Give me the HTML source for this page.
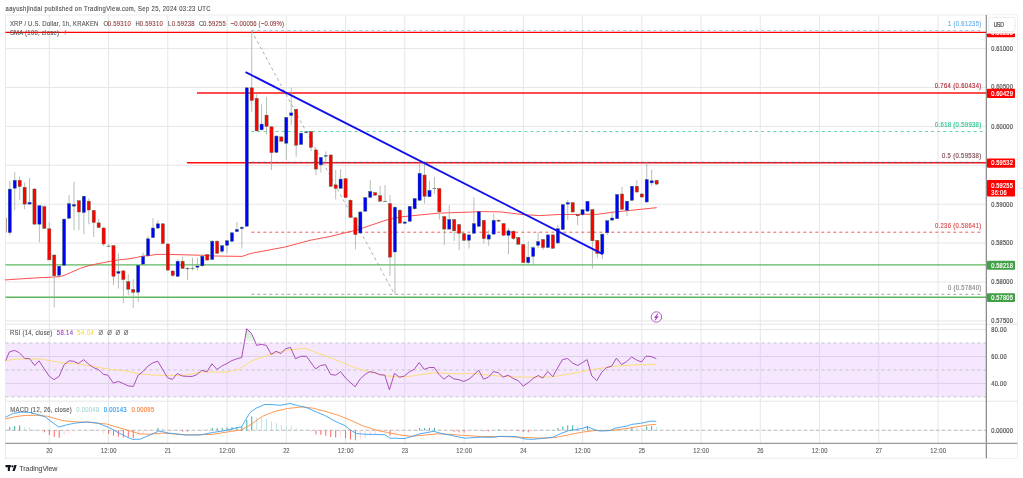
<!DOCTYPE html>
<html><head><meta charset="utf-8"><style>
html,body{margin:0;padding:0;background:#fff;}
body{width:1023px;height:478px;overflow:hidden;}
svg{display:block;font-family:"Liberation Sans", Arial, sans-serif;}
</style></head><body>
<svg width="1023" height="478" viewBox="0 0 1023 478">
<rect x="5.5" y="15.0" width="1011.8" height="443.2" fill="#fff" stroke="#e3e6ee" stroke-width="0.8"/>
<line x1="49.30" y1="15.00" x2="49.30" y2="443.30" stroke="#e6e6e6" stroke-width="1" />
<line x1="108.55" y1="15.00" x2="108.55" y2="443.30" stroke="#e6e6e6" stroke-width="1" />
<line x1="167.80" y1="15.00" x2="167.80" y2="443.30" stroke="#e6e6e6" stroke-width="1" />
<line x1="227.05" y1="15.00" x2="227.05" y2="443.30" stroke="#e6e6e6" stroke-width="1" />
<line x1="286.30" y1="15.00" x2="286.30" y2="443.30" stroke="#e6e6e6" stroke-width="1" />
<line x1="345.55" y1="15.00" x2="345.55" y2="443.30" stroke="#e6e6e6" stroke-width="1" />
<line x1="404.80" y1="15.00" x2="404.80" y2="443.30" stroke="#e6e6e6" stroke-width="1" />
<line x1="464.05" y1="15.00" x2="464.05" y2="443.30" stroke="#e6e6e6" stroke-width="1" />
<line x1="523.30" y1="15.00" x2="523.30" y2="443.30" stroke="#e6e6e6" stroke-width="1" />
<line x1="582.55" y1="15.00" x2="582.55" y2="443.30" stroke="#e6e6e6" stroke-width="1" />
<line x1="641.80" y1="15.00" x2="641.80" y2="443.30" stroke="#e6e6e6" stroke-width="1" />
<line x1="701.05" y1="15.00" x2="701.05" y2="443.30" stroke="#e6e6e6" stroke-width="1" />
<line x1="760.30" y1="15.00" x2="760.30" y2="443.30" stroke="#e6e6e6" stroke-width="1" />
<line x1="819.55" y1="15.00" x2="819.55" y2="443.30" stroke="#e6e6e6" stroke-width="1" />
<line x1="878.80" y1="15.00" x2="878.80" y2="443.30" stroke="#e6e6e6" stroke-width="1" />
<line x1="938.05" y1="15.00" x2="938.05" y2="443.30" stroke="#e6e6e6" stroke-width="1" />
<line x1="5.50" y1="48.60" x2="986.30" y2="48.60" stroke="#e6e6e6" stroke-width="1" />
<line x1="5.50" y1="87.50" x2="986.30" y2="87.50" stroke="#e6e6e6" stroke-width="1" />
<line x1="5.50" y1="126.40" x2="986.30" y2="126.40" stroke="#e6e6e6" stroke-width="1" />
<line x1="5.50" y1="165.30" x2="986.30" y2="165.30" stroke="#e6e6e6" stroke-width="1" />
<line x1="5.50" y1="204.20" x2="986.30" y2="204.20" stroke="#e6e6e6" stroke-width="1" />
<line x1="5.50" y1="243.10" x2="986.30" y2="243.10" stroke="#e6e6e6" stroke-width="1" />
<line x1="5.50" y1="282.00" x2="986.30" y2="282.00" stroke="#e6e6e6" stroke-width="1" />
<line x1="5.50" y1="320.90" x2="986.30" y2="320.90" stroke="#e6e6e6" stroke-width="1" />
<line x1="5.50" y1="324.30" x2="1017.30" y2="324.30" stroke="#e4e6ec" stroke-width="1" />
<line x1="5.50" y1="401.20" x2="1017.30" y2="401.20" stroke="#e4e6ec" stroke-width="1" />
<rect x="5.5" y="342.98" width="980.8" height="53.90" fill="#f5e7fe"/>
<line x1="5.50" y1="329.50" x2="986.30" y2="329.50" stroke="#e6e6e6" stroke-width="1" />
<line x1="5.50" y1="356.45" x2="986.30" y2="356.45" stroke="#dcd0e6" stroke-width="1" />
<line x1="5.50" y1="383.40" x2="986.30" y2="383.40" stroke="#dcd0e6" stroke-width="1" />
<line x1="5.50" y1="342.98" x2="986.30" y2="342.98" stroke="#a9a9b0" stroke-width="0.8" stroke-dasharray="3 3" opacity="0.8"/>
<line x1="5.50" y1="369.93" x2="986.30" y2="369.93" stroke="#a9a9b0" stroke-width="0.8" stroke-dasharray="3 3" opacity="0.8"/>
<line x1="5.50" y1="396.88" x2="986.30" y2="396.88" stroke="#a9a9b0" stroke-width="0.8" stroke-dasharray="3 3" opacity="0.8"/>
<line x1="49.30" y1="342.98" x2="49.30" y2="396.88" stroke="#e2d6ee" stroke-width="1" />
<line x1="108.55" y1="342.98" x2="108.55" y2="396.88" stroke="#e2d6ee" stroke-width="1" />
<line x1="167.80" y1="342.98" x2="167.80" y2="396.88" stroke="#e2d6ee" stroke-width="1" />
<line x1="227.05" y1="342.98" x2="227.05" y2="396.88" stroke="#e2d6ee" stroke-width="1" />
<line x1="286.30" y1="342.98" x2="286.30" y2="396.88" stroke="#e2d6ee" stroke-width="1" />
<line x1="345.55" y1="342.98" x2="345.55" y2="396.88" stroke="#e2d6ee" stroke-width="1" />
<line x1="404.80" y1="342.98" x2="404.80" y2="396.88" stroke="#e2d6ee" stroke-width="1" />
<line x1="464.05" y1="342.98" x2="464.05" y2="396.88" stroke="#e2d6ee" stroke-width="1" />
<line x1="523.30" y1="342.98" x2="523.30" y2="396.88" stroke="#e2d6ee" stroke-width="1" />
<line x1="582.55" y1="342.98" x2="582.55" y2="396.88" stroke="#e2d6ee" stroke-width="1" />
<line x1="641.80" y1="342.98" x2="641.80" y2="396.88" stroke="#e2d6ee" stroke-width="1" />
<line x1="701.05" y1="342.98" x2="701.05" y2="396.88" stroke="#e2d6ee" stroke-width="1" />
<line x1="760.30" y1="342.98" x2="760.30" y2="396.88" stroke="#e2d6ee" stroke-width="1" />
<line x1="819.55" y1="342.98" x2="819.55" y2="396.88" stroke="#e2d6ee" stroke-width="1" />
<line x1="878.80" y1="342.98" x2="878.80" y2="396.88" stroke="#e2d6ee" stroke-width="1" />
<line x1="938.05" y1="342.98" x2="938.05" y2="396.88" stroke="#e2d6ee" stroke-width="1" />
<line x1="5.50" y1="430.30" x2="986.30" y2="430.30" stroke="#a8a8a8" stroke-width="0.8" stroke-dasharray="4 2"/>
<line x1="5.50" y1="32.35" x2="986.30" y2="32.35" stroke="#ff0000" stroke-width="1.4" />
<line x1="197.00" y1="93.00" x2="986.30" y2="93.00" stroke="#ff1010" stroke-width="1.4" />
<line x1="186.90" y1="162.80" x2="986.30" y2="162.80" stroke="#ff1010" stroke-width="1.5" />
<line x1="5.50" y1="264.90" x2="986.30" y2="264.90" stroke="#5cb85f" stroke-width="1.4" />
<line x1="5.50" y1="297.20" x2="986.30" y2="297.20" stroke="#5cb85f" stroke-width="1.4" />
<line x1="251.30" y1="30.60" x2="983.30" y2="30.60" stroke="#90c8f0" stroke-width="1" stroke-dasharray="3 3"/>
<line x1="251.30" y1="131.50" x2="983.30" y2="131.50" stroke="#62d6ac" stroke-width="1.0" stroke-dasharray="3 3.07"/>
<line x1="251.30" y1="162.30" x2="983.30" y2="162.30" stroke="#5a5a8a" stroke-width="0.9" stroke-dasharray="3 3"/>
<line x1="251.30" y1="232.20" x2="983.30" y2="232.20" stroke="#ee4a4a" stroke-width="0.9" stroke-dasharray="3 3"/>
<line x1="251.30" y1="294.30" x2="983.30" y2="294.30" stroke="#999999" stroke-width="0.9" stroke-dasharray="3 3"/>
<line x1="251.50" y1="30.70" x2="394.50" y2="294.30" stroke="#999999" stroke-width="0.8" stroke-dasharray="3 3"/>
<text transform="translate(947.90 26.10) scale(0.82 1)" fill="#6fb3e6" stroke="#6fb3e6" stroke-width="0.2" font-size="7.2" textLength="40.73" lengthAdjust="spacing" >1 (0.61235)</text>
<text transform="translate(934.70 87.90) scale(0.82 1)" fill="#b8323f" stroke="#b8323f" stroke-width="0.2" font-size="7.2" textLength="56.83" lengthAdjust="spacing" >0.764 (0.60434)</text>
<text transform="translate(935.00 126.50) scale(0.82 1)" fill="#2fc794" stroke="#2fc794" stroke-width="0.2" font-size="7.2" textLength="56.34" lengthAdjust="spacing" >0.618 (0.59938)</text>
<text transform="translate(942.00 157.90) scale(0.82 1)" fill="#7d4e52" stroke="#7d4e52" stroke-width="0.2" font-size="7.2" textLength="47.80" lengthAdjust="spacing" >0.5 (0.59538)</text>
<text transform="translate(934.90 227.90) scale(0.82 1)" fill="#e05050" stroke="#e05050" stroke-width="0.2" font-size="7.2" textLength="56.59" lengthAdjust="spacing" >0.236 (0.58641)</text>
<text transform="translate(947.90 290.00) scale(0.82 1)" fill="#8a8a8a" stroke="#8a8a8a" stroke-width="0.2" font-size="7.2" textLength="40.73" lengthAdjust="spacing" >0 (0.57840)</text>
<polyline points="5.3,279.9 20.0,278.9 40.0,277.7 52.7,277.1 60.3,276.5 65.4,274.9 73.0,271.5 80.7,268.2 88.3,265.8 95.9,264.1 103.5,262.6 111.2,261.2 118.8,259.9 129.0,258.8 136.6,257.5 141.7,256.3 149.3,255.5 156.9,254.4 167.1,254.4 200.2,255.2 215.2,256.0 242.0,256.4 250.4,253.5 285.5,246.9 310.6,240.2 330.0,236.5 345.2,232.7 355.2,230.5 386.2,220.1 400.0,217.0 410.4,215.9 438.9,213.1 470.0,212.1 480.4,211.6 500.5,211.9 523.7,214.7 540.4,215.6 557.1,214.6 590.6,214.2 596.9,214.4 615.3,211.9 656.3,207.7" fill="none" stroke="#ff3b3b" stroke-width="0.9" stroke-linejoin="round" stroke-linecap="round" />
<line x1="9.80" y1="180.90" x2="9.80" y2="235.30" stroke="#9eaa9e" stroke-width="0.75" />
<line x1="14.74" y1="172.00" x2="14.74" y2="210.00" stroke="#9eaa9e" stroke-width="0.75" />
<line x1="19.67" y1="176.40" x2="19.67" y2="200.00" stroke="#9eaa9e" stroke-width="0.75" />
<line x1="24.61" y1="182.60" x2="24.61" y2="209.30" stroke="#9eaa9e" stroke-width="0.75" />
<line x1="29.55" y1="178.00" x2="29.55" y2="204.30" stroke="#9eaa9e" stroke-width="0.75" />
<line x1="34.49" y1="188.00" x2="34.49" y2="224.40" stroke="#9eaa9e" stroke-width="0.75" />
<line x1="39.42" y1="205.00" x2="39.42" y2="242.30" stroke="#9eaa9e" stroke-width="0.75" />
<line x1="44.36" y1="205.00" x2="44.36" y2="228.60" stroke="#9eaa9e" stroke-width="0.75" />
<line x1="49.30" y1="222.20" x2="49.30" y2="260.10" stroke="#9eaa9e" stroke-width="0.75" />
<line x1="54.24" y1="254.80" x2="54.24" y2="307.30" stroke="#9eaa9e" stroke-width="0.75" />
<line x1="59.17" y1="266.00" x2="59.17" y2="277.70" stroke="#9eaa9e" stroke-width="0.75" />
<line x1="64.11" y1="218.90" x2="64.11" y2="265.50" stroke="#9eaa9e" stroke-width="0.75" />
<line x1="69.05" y1="195.10" x2="69.05" y2="218.50" stroke="#9eaa9e" stroke-width="0.75" />
<line x1="73.99" y1="181.70" x2="73.99" y2="230.30" stroke="#9eaa9e" stroke-width="0.75" />
<line x1="78.92" y1="200.00" x2="78.92" y2="230.00" stroke="#9eaa9e" stroke-width="0.75" />
<line x1="83.86" y1="196.00" x2="83.86" y2="234.40" stroke="#9eaa9e" stroke-width="0.75" />
<line x1="88.80" y1="198.50" x2="88.80" y2="224.40" stroke="#9eaa9e" stroke-width="0.75" />
<line x1="93.74" y1="210.00" x2="93.74" y2="237.00" stroke="#9eaa9e" stroke-width="0.75" />
<line x1="98.67" y1="219.00" x2="98.67" y2="228.00" stroke="#9eaa9e" stroke-width="0.75" />
<line x1="103.61" y1="227.00" x2="103.61" y2="246.00" stroke="#9eaa9e" stroke-width="0.75" />
<line x1="108.55" y1="244.00" x2="108.55" y2="247.00" stroke="#9eaa9e" stroke-width="0.75" />
<line x1="113.49" y1="245.00" x2="113.49" y2="285.20" stroke="#9eaa9e" stroke-width="0.75" />
<line x1="118.42" y1="253.40" x2="118.42" y2="288.60" stroke="#9eaa9e" stroke-width="0.75" />
<line x1="123.36" y1="270.00" x2="123.36" y2="303.30" stroke="#9eaa9e" stroke-width="0.75" />
<line x1="128.30" y1="274.30" x2="128.30" y2="295.30" stroke="#9eaa9e" stroke-width="0.75" />
<line x1="133.24" y1="279.40" x2="133.24" y2="307.80" stroke="#9eaa9e" stroke-width="0.75" />
<line x1="138.18" y1="265.00" x2="138.18" y2="302.00" stroke="#9eaa9e" stroke-width="0.75" />
<line x1="143.11" y1="252.60" x2="143.11" y2="265.00" stroke="#9eaa9e" stroke-width="0.75" />
<line x1="148.05" y1="236.00" x2="148.05" y2="257.00" stroke="#9eaa9e" stroke-width="0.75" />
<line x1="152.99" y1="218.20" x2="152.99" y2="238.00" stroke="#9eaa9e" stroke-width="0.75" />
<line x1="157.93" y1="220.20" x2="157.93" y2="229.00" stroke="#9eaa9e" stroke-width="0.75" />
<line x1="162.86" y1="223.00" x2="162.86" y2="244.00" stroke="#9eaa9e" stroke-width="0.75" />
<line x1="167.80" y1="243.00" x2="167.80" y2="271.00" stroke="#9eaa9e" stroke-width="0.75" />
<line x1="172.74" y1="270.00" x2="172.74" y2="277.00" stroke="#9eaa9e" stroke-width="0.75" />
<line x1="177.68" y1="259.40" x2="177.68" y2="277.00" stroke="#9eaa9e" stroke-width="0.75" />
<line x1="182.61" y1="256.90" x2="182.61" y2="269.00" stroke="#9eaa9e" stroke-width="0.75" />
<line x1="187.55" y1="267.00" x2="187.55" y2="280.00" stroke="#9eaa9e" stroke-width="0.75" />
<line x1="192.49" y1="257.70" x2="192.49" y2="270.30" stroke="#9eaa9e" stroke-width="0.75" />
<line x1="197.43" y1="257.70" x2="197.43" y2="270.30" stroke="#9eaa9e" stroke-width="0.75" />
<line x1="202.36" y1="254.40" x2="202.36" y2="267.00" stroke="#9eaa9e" stroke-width="0.75" />
<line x1="207.30" y1="254.00" x2="207.30" y2="261.00" stroke="#9eaa9e" stroke-width="0.75" />
<line x1="212.24" y1="240.00" x2="212.24" y2="260.00" stroke="#9eaa9e" stroke-width="0.75" />
<line x1="217.18" y1="240.00" x2="217.18" y2="254.00" stroke="#9eaa9e" stroke-width="0.75" />
<line x1="222.11" y1="245.00" x2="222.11" y2="253.00" stroke="#9eaa9e" stroke-width="0.75" />
<line x1="227.05" y1="240.00" x2="227.05" y2="253.20" stroke="#9eaa9e" stroke-width="0.75" />
<line x1="231.99" y1="232.00" x2="231.99" y2="242.00" stroke="#9eaa9e" stroke-width="0.75" />
<line x1="236.93" y1="222.00" x2="236.93" y2="232.00" stroke="#9eaa9e" stroke-width="0.75" />
<line x1="241.86" y1="226.00" x2="241.86" y2="248.50" stroke="#9eaa9e" stroke-width="0.75" />
<line x1="246.80" y1="87.60" x2="246.80" y2="227.00" stroke="#9eaa9e" stroke-width="0.75" />
<line x1="251.74" y1="30.70" x2="251.74" y2="111.90" stroke="#9eaa9e" stroke-width="0.75" />
<line x1="256.68" y1="94.30" x2="256.68" y2="131.50" stroke="#9eaa9e" stroke-width="0.75" />
<line x1="261.61" y1="104.30" x2="261.61" y2="131.00" stroke="#9eaa9e" stroke-width="0.75" />
<line x1="266.55" y1="96.80" x2="266.55" y2="134.50" stroke="#9eaa9e" stroke-width="0.75" />
<line x1="271.49" y1="126.00" x2="271.49" y2="170.20" stroke="#9eaa9e" stroke-width="0.75" />
<line x1="276.43" y1="135.00" x2="276.43" y2="153.00" stroke="#9eaa9e" stroke-width="0.75" />
<line x1="281.36" y1="136.00" x2="281.36" y2="142.00" stroke="#9eaa9e" stroke-width="0.75" />
<line x1="286.30" y1="117.00" x2="286.30" y2="160.10" stroke="#9eaa9e" stroke-width="0.75" />
<line x1="291.24" y1="87.60" x2="291.24" y2="125.00" stroke="#9eaa9e" stroke-width="0.75" />
<line x1="296.18" y1="109.00" x2="296.18" y2="156.80" stroke="#9eaa9e" stroke-width="0.75" />
<line x1="301.11" y1="132.00" x2="301.11" y2="145.00" stroke="#9eaa9e" stroke-width="0.75" />
<line x1="306.05" y1="131.00" x2="306.05" y2="133.00" stroke="#9eaa9e" stroke-width="0.75" />
<line x1="310.99" y1="131.00" x2="310.99" y2="151.00" stroke="#9eaa9e" stroke-width="0.75" />
<line x1="315.93" y1="149.00" x2="315.93" y2="175.20" stroke="#9eaa9e" stroke-width="0.75" />
<line x1="320.86" y1="157.00" x2="320.86" y2="172.70" stroke="#9eaa9e" stroke-width="0.75" />
<line x1="325.80" y1="151.40" x2="325.80" y2="162.60" stroke="#9eaa9e" stroke-width="0.75" />
<line x1="330.74" y1="154.00" x2="330.74" y2="187.00" stroke="#9eaa9e" stroke-width="0.75" />
<line x1="335.68" y1="170.00" x2="335.68" y2="199.40" stroke="#9eaa9e" stroke-width="0.75" />
<line x1="340.61" y1="169.30" x2="340.61" y2="189.00" stroke="#9eaa9e" stroke-width="0.75" />
<line x1="345.55" y1="178.00" x2="345.55" y2="198.00" stroke="#9eaa9e" stroke-width="0.75" />
<line x1="350.49" y1="199.00" x2="350.49" y2="218.00" stroke="#9eaa9e" stroke-width="0.75" />
<line x1="355.43" y1="217.00" x2="355.43" y2="249.40" stroke="#9eaa9e" stroke-width="0.75" />
<line x1="360.36" y1="211.00" x2="360.36" y2="234.00" stroke="#9eaa9e" stroke-width="0.75" />
<line x1="365.30" y1="197.00" x2="365.30" y2="212.00" stroke="#9eaa9e" stroke-width="0.75" />
<line x1="370.24" y1="180.20" x2="370.24" y2="198.00" stroke="#9eaa9e" stroke-width="0.75" />
<line x1="375.18" y1="192.00" x2="375.18" y2="196.00" stroke="#9eaa9e" stroke-width="0.75" />
<line x1="380.11" y1="186.00" x2="380.11" y2="202.00" stroke="#9eaa9e" stroke-width="0.75" />
<line x1="385.05" y1="185.00" x2="385.05" y2="202.00" stroke="#9eaa9e" stroke-width="0.75" />
<line x1="389.99" y1="195.00" x2="389.99" y2="276.00" stroke="#9eaa9e" stroke-width="0.75" />
<line x1="394.93" y1="206.00" x2="394.93" y2="294.40" stroke="#9eaa9e" stroke-width="0.75" />
<line x1="399.86" y1="209.00" x2="399.86" y2="224.00" stroke="#9eaa9e" stroke-width="0.75" />
<line x1="404.80" y1="221.00" x2="404.80" y2="224.00" stroke="#9eaa9e" stroke-width="0.75" />
<line x1="409.74" y1="206.00" x2="409.74" y2="222.00" stroke="#9eaa9e" stroke-width="0.75" />
<line x1="414.68" y1="198.00" x2="414.68" y2="210.00" stroke="#9eaa9e" stroke-width="0.75" />
<line x1="419.61" y1="162.50" x2="419.61" y2="201.00" stroke="#9eaa9e" stroke-width="0.75" />
<line x1="424.55" y1="160.90" x2="424.55" y2="203.50" stroke="#9eaa9e" stroke-width="0.75" />
<line x1="429.49" y1="181.00" x2="429.49" y2="197.00" stroke="#9eaa9e" stroke-width="0.75" />
<line x1="434.43" y1="176.80" x2="434.43" y2="194.00" stroke="#9eaa9e" stroke-width="0.75" />
<line x1="439.36" y1="188.00" x2="439.36" y2="219.40" stroke="#9eaa9e" stroke-width="0.75" />
<line x1="444.30" y1="216.00" x2="444.30" y2="245.00" stroke="#9eaa9e" stroke-width="0.75" />
<line x1="449.24" y1="205.00" x2="449.24" y2="230.00" stroke="#9eaa9e" stroke-width="0.75" />
<line x1="454.18" y1="219.00" x2="454.18" y2="241.00" stroke="#9eaa9e" stroke-width="0.75" />
<line x1="459.11" y1="224.00" x2="459.11" y2="250.20" stroke="#9eaa9e" stroke-width="0.75" />
<line x1="464.05" y1="233.00" x2="464.05" y2="241.00" stroke="#9eaa9e" stroke-width="0.75" />
<line x1="468.99" y1="234.00" x2="468.99" y2="248.50" stroke="#9eaa9e" stroke-width="0.75" />
<line x1="473.93" y1="197.50" x2="473.93" y2="234.00" stroke="#9eaa9e" stroke-width="0.75" />
<line x1="478.86" y1="211.00" x2="478.86" y2="227.00" stroke="#9eaa9e" stroke-width="0.75" />
<line x1="483.80" y1="220.00" x2="483.80" y2="243.50" stroke="#9eaa9e" stroke-width="0.75" />
<line x1="488.74" y1="230.00" x2="488.74" y2="246.00" stroke="#9eaa9e" stroke-width="0.75" />
<line x1="493.68" y1="213.60" x2="493.68" y2="235.00" stroke="#9eaa9e" stroke-width="0.75" />
<line x1="498.61" y1="219.00" x2="498.61" y2="222.00" stroke="#9eaa9e" stroke-width="0.75" />
<line x1="503.55" y1="223.00" x2="503.55" y2="236.00" stroke="#9eaa9e" stroke-width="0.75" />
<line x1="508.49" y1="228.00" x2="508.49" y2="254.40" stroke="#9eaa9e" stroke-width="0.75" />
<line x1="513.42" y1="230.00" x2="513.42" y2="240.00" stroke="#9eaa9e" stroke-width="0.75" />
<line x1="518.36" y1="237.00" x2="518.36" y2="245.00" stroke="#9eaa9e" stroke-width="0.75" />
<line x1="523.30" y1="244.00" x2="523.30" y2="263.00" stroke="#9eaa9e" stroke-width="0.75" />
<line x1="528.24" y1="241.00" x2="528.24" y2="264.00" stroke="#9eaa9e" stroke-width="0.75" />
<line x1="533.17" y1="246.00" x2="533.17" y2="265.00" stroke="#9eaa9e" stroke-width="0.75" />
<line x1="538.11" y1="232.00" x2="538.11" y2="248.00" stroke="#9eaa9e" stroke-width="0.75" />
<line x1="543.05" y1="239.00" x2="543.05" y2="250.00" stroke="#9eaa9e" stroke-width="0.75" />
<line x1="547.99" y1="234.00" x2="547.99" y2="248.00" stroke="#9eaa9e" stroke-width="0.75" />
<line x1="552.92" y1="234.00" x2="552.92" y2="249.00" stroke="#9eaa9e" stroke-width="0.75" />
<line x1="557.86" y1="225.10" x2="557.86" y2="244.00" stroke="#9eaa9e" stroke-width="0.75" />
<line x1="562.80" y1="204.00" x2="562.80" y2="230.00" stroke="#9eaa9e" stroke-width="0.75" />
<line x1="567.74" y1="200.20" x2="567.74" y2="220.00" stroke="#9eaa9e" stroke-width="0.75" />
<line x1="572.67" y1="202.00" x2="572.67" y2="213.00" stroke="#9eaa9e" stroke-width="0.75" />
<line x1="577.61" y1="214.00" x2="577.61" y2="225.30" stroke="#9eaa9e" stroke-width="0.75" />
<line x1="582.55" y1="209.00" x2="582.55" y2="216.00" stroke="#9eaa9e" stroke-width="0.75" />
<line x1="587.49" y1="201.00" x2="587.49" y2="212.00" stroke="#9eaa9e" stroke-width="0.75" />
<line x1="592.42" y1="209.00" x2="592.42" y2="268.60" stroke="#9eaa9e" stroke-width="0.75" />
<line x1="597.36" y1="240.00" x2="597.36" y2="258.00" stroke="#9eaa9e" stroke-width="0.75" />
<line x1="602.30" y1="233.00" x2="602.30" y2="259.00" stroke="#9eaa9e" stroke-width="0.75" />
<line x1="607.24" y1="220.00" x2="607.24" y2="235.00" stroke="#9eaa9e" stroke-width="0.75" />
<line x1="612.17" y1="211.10" x2="612.17" y2="221.00" stroke="#9eaa9e" stroke-width="0.75" />
<line x1="617.11" y1="194.00" x2="617.11" y2="219.00" stroke="#9eaa9e" stroke-width="0.75" />
<line x1="622.05" y1="186.80" x2="622.05" y2="210.00" stroke="#9eaa9e" stroke-width="0.75" />
<line x1="626.99" y1="201.00" x2="626.99" y2="216.00" stroke="#9eaa9e" stroke-width="0.75" />
<line x1="631.92" y1="186.00" x2="631.92" y2="201.00" stroke="#9eaa9e" stroke-width="0.75" />
<line x1="636.86" y1="180.00" x2="636.86" y2="193.00" stroke="#9eaa9e" stroke-width="0.75" />
<line x1="641.80" y1="193.00" x2="641.80" y2="198.00" stroke="#9eaa9e" stroke-width="0.75" />
<line x1="646.74" y1="162.50" x2="646.74" y2="203.00" stroke="#9eaa9e" stroke-width="0.75" />
<line x1="651.67" y1="169.70" x2="651.67" y2="186.00" stroke="#9eaa9e" stroke-width="0.75" />
<line x1="656.61" y1="180.00" x2="656.61" y2="185.00" stroke="#9eaa9e" stroke-width="0.75" />
<rect x="6.20" y="217.90" width="0.26" height="14.70" fill="#ff0000" stroke="#3d6a4a" stroke-width="0.4"/>
<rect x="8.20" y="189.10" width="3.20" height="43.50" fill="#0000ff" stroke="#3d6a4a" stroke-width="0.4"/>
<rect x="13.14" y="180.30" width="3.20" height="7.90" fill="#0000ff" stroke="#3d6a4a" stroke-width="0.4"/>
<rect x="18.07" y="180.30" width="3.20" height="6.30" fill="#ff0000" stroke="#3d6a4a" stroke-width="0.4"/>
<rect x="23.01" y="187.30" width="3.20" height="16.80" fill="#ff0000" stroke="#3d6a4a" stroke-width="0.4"/>
<rect x="27.95" y="202.30" width="3.20" height="1.80" fill="#0000ff" stroke="#3d6a4a" stroke-width="0.4"/>
<rect x="32.89" y="189.00" width="3.20" height="35.20" fill="#ff0000" stroke="#3d6a4a" stroke-width="0.4"/>
<rect x="37.83" y="205.70" width="3.20" height="18.50" fill="#0000ff" stroke="#3d6a4a" stroke-width="0.4"/>
<rect x="42.76" y="206.70" width="3.20" height="21.70" fill="#ff0000" stroke="#3d6a4a" stroke-width="0.4"/>
<rect x="47.70" y="228.80" width="3.20" height="31.10" fill="#ff0000" stroke="#3d6a4a" stroke-width="0.4"/>
<rect x="52.64" y="255.00" width="3.20" height="20.80" fill="#ff0000" stroke="#3d6a4a" stroke-width="0.4"/>
<rect x="57.58" y="266.20" width="3.20" height="9.10" fill="#0000ff" stroke="#3d6a4a" stroke-width="0.4"/>
<rect x="62.51" y="219.10" width="3.20" height="46.20" fill="#0000ff" stroke="#3d6a4a" stroke-width="0.4"/>
<rect x="67.45" y="203.70" width="3.20" height="14.60" fill="#0000ff" stroke="#3d6a4a" stroke-width="0.4"/>
<rect x="72.39" y="204.50" width="3.20" height="1.60" fill="#0000ff" stroke="#3d6a4a" stroke-width="0.4"/>
<rect x="77.33" y="200.70" width="3.20" height="11.30" fill="#ff0000" stroke="#3d6a4a" stroke-width="0.4"/>
<rect x="82.26" y="196.20" width="3.20" height="16.30" fill="#0000ff" stroke="#3d6a4a" stroke-width="0.4"/>
<rect x="87.20" y="201.20" width="3.20" height="8.80" fill="#ff0000" stroke="#3d6a4a" stroke-width="0.4"/>
<rect x="92.14" y="210.40" width="3.20" height="12.10" fill="#ff0000" stroke="#3d6a4a" stroke-width="0.4"/>
<rect x="97.08" y="222.90" width="3.20" height="4.70" fill="#ff0000" stroke="#3d6a4a" stroke-width="0.4"/>
<rect x="102.01" y="228.00" width="3.20" height="16.00" fill="#ff0000" stroke="#3d6a4a" stroke-width="0.4"/>
<rect x="106.75" y="245.80" width="3.60" height="0.90" fill="#5a8a6a"/>
<rect x="111.89" y="245.60" width="3.20" height="30.70" fill="#ff0000" stroke="#3d6a4a" stroke-width="0.4"/>
<rect x="116.83" y="271.50" width="3.20" height="1.80" fill="#0000ff" stroke="#3d6a4a" stroke-width="0.4"/>
<rect x="121.76" y="270.90" width="3.20" height="8.60" fill="#ff0000" stroke="#3d6a4a" stroke-width="0.4"/>
<rect x="126.70" y="281.70" width="3.20" height="7.50" fill="#ff0000" stroke="#3d6a4a" stroke-width="0.4"/>
<rect x="131.64" y="289.60" width="3.20" height="2.60" fill="#ff0000" stroke="#3d6a4a" stroke-width="0.4"/>
<rect x="136.57" y="265.30" width="3.20" height="26.90" fill="#0000ff" stroke="#3d6a4a" stroke-width="0.4"/>
<rect x="141.51" y="256.50" width="3.20" height="7.60" fill="#0000ff" stroke="#3d6a4a" stroke-width="0.4"/>
<rect x="146.45" y="238.80" width="3.20" height="16.90" fill="#0000ff" stroke="#3d6a4a" stroke-width="0.4"/>
<rect x="151.39" y="228.00" width="3.20" height="9.60" fill="#0000ff" stroke="#3d6a4a" stroke-width="0.4"/>
<rect x="156.32" y="223.80" width="3.20" height="4.30" fill="#0000ff" stroke="#3d6a4a" stroke-width="0.4"/>
<rect x="161.26" y="223.80" width="3.20" height="19.80" fill="#ff0000" stroke="#3d6a4a" stroke-width="0.4"/>
<rect x="166.20" y="244.00" width="3.20" height="26.10" fill="#ff0000" stroke="#3d6a4a" stroke-width="0.4"/>
<rect x="171.14" y="271.00" width="3.20" height="4.40" fill="#ff0000" stroke="#3d6a4a" stroke-width="0.4"/>
<rect x="176.07" y="261.20" width="3.20" height="15.20" fill="#0000ff" stroke="#3d6a4a" stroke-width="0.4"/>
<rect x="181.01" y="261.20" width="3.20" height="7.20" fill="#ff0000" stroke="#3d6a4a" stroke-width="0.4"/>
<rect x="185.95" y="268.40" width="3.20" height="0.50" fill="#ff0000" stroke="#3d6a4a" stroke-width="0.4"/>
<rect x="190.69" y="267.90" width="3.60" height="0.90" fill="#5a8a6a"/>
<rect x="195.82" y="266.00" width="3.20" height="1.20" fill="#0000ff" stroke="#3d6a4a" stroke-width="0.4"/>
<rect x="200.76" y="256.20" width="3.20" height="9.60" fill="#0000ff" stroke="#3d6a4a" stroke-width="0.4"/>
<rect x="205.70" y="254.60" width="3.20" height="5.40" fill="#ff0000" stroke="#3d6a4a" stroke-width="0.4"/>
<rect x="210.64" y="241.20" width="3.20" height="18.30" fill="#0000ff" stroke="#3d6a4a" stroke-width="0.4"/>
<rect x="215.57" y="241.20" width="3.20" height="12.10" fill="#ff0000" stroke="#3d6a4a" stroke-width="0.4"/>
<rect x="220.51" y="245.70" width="3.20" height="5.60" fill="#0000ff" stroke="#3d6a4a" stroke-width="0.4"/>
<rect x="225.45" y="240.70" width="3.20" height="4.60" fill="#0000ff" stroke="#3d6a4a" stroke-width="0.4"/>
<rect x="230.39" y="232.80" width="3.20" height="8.50" fill="#0000ff" stroke="#3d6a4a" stroke-width="0.4"/>
<rect x="235.32" y="229.50" width="3.20" height="2.10" fill="#0000ff" stroke="#3d6a4a" stroke-width="0.4"/>
<rect x="240.26" y="227.30" width="3.20" height="1.30" fill="#0000ff" stroke="#3d6a4a" stroke-width="0.4"/>
<rect x="245.20" y="87.80" width="3.20" height="138.40" fill="#0000ff" stroke="#3d6a4a" stroke-width="0.4"/>
<rect x="250.14" y="87.80" width="3.20" height="12.70" fill="#ff0000" stroke="#3d6a4a" stroke-width="0.4"/>
<rect x="255.07" y="98.40" width="3.20" height="32.50" fill="#ff0000" stroke="#3d6a4a" stroke-width="0.4"/>
<rect x="260.01" y="124.10" width="3.20" height="5.70" fill="#0000ff" stroke="#3d6a4a" stroke-width="0.4"/>
<rect x="264.95" y="115.10" width="3.20" height="11.30" fill="#ff0000" stroke="#3d6a4a" stroke-width="0.4"/>
<rect x="269.89" y="126.80" width="3.20" height="25.90" fill="#ff0000" stroke="#3d6a4a" stroke-width="0.4"/>
<rect x="274.82" y="136.10" width="3.20" height="16.30" fill="#0000ff" stroke="#3d6a4a" stroke-width="0.4"/>
<rect x="279.76" y="136.90" width="3.20" height="4.30" fill="#ff0000" stroke="#3d6a4a" stroke-width="0.4"/>
<rect x="284.70" y="117.40" width="3.20" height="25.80" fill="#0000ff" stroke="#3d6a4a" stroke-width="0.4"/>
<rect x="289.64" y="112.90" width="3.20" height="2.50" fill="#0000ff" stroke="#3d6a4a" stroke-width="0.4"/>
<rect x="294.57" y="109.20" width="3.20" height="36.00" fill="#ff0000" stroke="#3d6a4a" stroke-width="0.4"/>
<rect x="299.51" y="133.20" width="3.20" height="11.30" fill="#0000ff" stroke="#3d6a4a" stroke-width="0.4"/>
<rect x="304.45" y="131.90" width="3.20" height="0.70" fill="#0000ff" stroke="#3d6a4a" stroke-width="0.4"/>
<rect x="309.39" y="131.50" width="3.20" height="15.90" fill="#ff0000" stroke="#3d6a4a" stroke-width="0.4"/>
<rect x="314.32" y="149.90" width="3.20" height="19.20" fill="#ff0000" stroke="#3d6a4a" stroke-width="0.4"/>
<rect x="319.26" y="157.30" width="3.20" height="7.60" fill="#0000ff" stroke="#3d6a4a" stroke-width="0.4"/>
<rect x="324.20" y="155.60" width="3.20" height="0.60" fill="#0000ff" stroke="#3d6a4a" stroke-width="0.4"/>
<rect x="329.14" y="155.00" width="3.20" height="31.40" fill="#ff0000" stroke="#3d6a4a" stroke-width="0.4"/>
<rect x="334.07" y="184.90" width="3.20" height="3.50" fill="#ff0000" stroke="#3d6a4a" stroke-width="0.4"/>
<rect x="339.01" y="179.10" width="3.20" height="9.30" fill="#0000ff" stroke="#3d6a4a" stroke-width="0.4"/>
<rect x="343.95" y="178.70" width="3.20" height="18.90" fill="#ff0000" stroke="#3d6a4a" stroke-width="0.4"/>
<rect x="348.89" y="200.20" width="3.20" height="17.20" fill="#ff0000" stroke="#3d6a4a" stroke-width="0.4"/>
<rect x="353.82" y="217.80" width="3.20" height="16.80" fill="#ff0000" stroke="#3d6a4a" stroke-width="0.4"/>
<rect x="358.76" y="212.00" width="3.20" height="21.00" fill="#0000ff" stroke="#3d6a4a" stroke-width="0.4"/>
<rect x="363.70" y="197.70" width="3.20" height="13.50" fill="#0000ff" stroke="#3d6a4a" stroke-width="0.4"/>
<rect x="368.64" y="191.50" width="3.20" height="5.80" fill="#0000ff" stroke="#3d6a4a" stroke-width="0.4"/>
<rect x="373.57" y="192.70" width="3.20" height="2.50" fill="#ff0000" stroke="#3d6a4a" stroke-width="0.4"/>
<rect x="378.51" y="195.60" width="3.20" height="5.60" fill="#ff0000" stroke="#3d6a4a" stroke-width="0.4"/>
<rect x="383.25" y="201.00" width="3.60" height="0.90" fill="#5a8a6a"/>
<rect x="388.39" y="203.60" width="3.20" height="53.50" fill="#ff0000" stroke="#3d6a4a" stroke-width="0.4"/>
<rect x="393.32" y="207.20" width="3.20" height="44.80" fill="#0000ff" stroke="#3d6a4a" stroke-width="0.4"/>
<rect x="398.26" y="210.20" width="3.20" height="12.90" fill="#ff0000" stroke="#3d6a4a" stroke-width="0.4"/>
<rect x="403.20" y="222.00" width="3.20" height="1.30" fill="#0000ff" stroke="#3d6a4a" stroke-width="0.4"/>
<rect x="408.14" y="206.40" width="3.20" height="14.90" fill="#0000ff" stroke="#3d6a4a" stroke-width="0.4"/>
<rect x="413.07" y="198.50" width="3.20" height="10.30" fill="#0000ff" stroke="#3d6a4a" stroke-width="0.4"/>
<rect x="418.01" y="173.30" width="3.20" height="27.00" fill="#0000ff" stroke="#3d6a4a" stroke-width="0.4"/>
<rect x="422.95" y="175.00" width="3.20" height="21.30" fill="#ff0000" stroke="#3d6a4a" stroke-width="0.4"/>
<rect x="427.89" y="190.40" width="3.20" height="6.30" fill="#0000ff" stroke="#3d6a4a" stroke-width="0.4"/>
<rect x="432.62" y="188.10" width="3.60" height="0.90" fill="#5a8a6a"/>
<rect x="437.76" y="188.70" width="3.20" height="23.10" fill="#ff0000" stroke="#3d6a4a" stroke-width="0.4"/>
<rect x="442.70" y="216.60" width="3.20" height="12.50" fill="#ff0000" stroke="#3d6a4a" stroke-width="0.4"/>
<rect x="447.64" y="219.50" width="3.20" height="9.60" fill="#0000ff" stroke="#3d6a4a" stroke-width="0.4"/>
<rect x="452.57" y="219.50" width="3.20" height="11.30" fill="#ff0000" stroke="#3d6a4a" stroke-width="0.4"/>
<rect x="457.51" y="224.50" width="3.20" height="8.80" fill="#ff0000" stroke="#3d6a4a" stroke-width="0.4"/>
<rect x="462.45" y="233.70" width="3.20" height="6.60" fill="#ff0000" stroke="#3d6a4a" stroke-width="0.4"/>
<rect x="467.39" y="234.90" width="3.20" height="5.40" fill="#0000ff" stroke="#3d6a4a" stroke-width="0.4"/>
<rect x="472.32" y="223.60" width="3.20" height="9.70" fill="#0000ff" stroke="#3d6a4a" stroke-width="0.4"/>
<rect x="477.26" y="211.60" width="3.20" height="14.70" fill="#0000ff" stroke="#3d6a4a" stroke-width="0.4"/>
<rect x="482.20" y="220.30" width="3.20" height="18.30" fill="#ff0000" stroke="#3d6a4a" stroke-width="0.4"/>
<rect x="487.14" y="234.90" width="3.20" height="4.20" fill="#0000ff" stroke="#3d6a4a" stroke-width="0.4"/>
<rect x="492.07" y="220.30" width="3.20" height="13.80" fill="#0000ff" stroke="#3d6a4a" stroke-width="0.4"/>
<rect x="497.01" y="220.30" width="3.20" height="0.90" fill="#ff0000" stroke="#3d6a4a" stroke-width="0.4"/>
<rect x="501.95" y="223.60" width="3.20" height="11.70" fill="#ff0000" stroke="#3d6a4a" stroke-width="0.4"/>
<rect x="506.89" y="230.80" width="3.20" height="4.50" fill="#0000ff" stroke="#3d6a4a" stroke-width="0.4"/>
<rect x="511.82" y="231.20" width="3.20" height="7.40" fill="#ff0000" stroke="#3d6a4a" stroke-width="0.4"/>
<rect x="516.76" y="237.50" width="3.20" height="6.70" fill="#ff0000" stroke="#3d6a4a" stroke-width="0.4"/>
<rect x="521.70" y="244.60" width="3.20" height="18.00" fill="#ff0000" stroke="#3d6a4a" stroke-width="0.4"/>
<rect x="526.64" y="257.10" width="3.20" height="5.50" fill="#0000ff" stroke="#3d6a4a" stroke-width="0.4"/>
<rect x="531.58" y="247.60" width="3.20" height="8.80" fill="#0000ff" stroke="#3d6a4a" stroke-width="0.4"/>
<rect x="536.51" y="241.60" width="3.20" height="3.70" fill="#0000ff" stroke="#3d6a4a" stroke-width="0.4"/>
<rect x="541.45" y="239.50" width="3.20" height="8.00" fill="#ff0000" stroke="#3d6a4a" stroke-width="0.4"/>
<rect x="546.39" y="234.90" width="3.20" height="12.60" fill="#0000ff" stroke="#3d6a4a" stroke-width="0.4"/>
<rect x="551.33" y="234.90" width="3.20" height="13.40" fill="#ff0000" stroke="#3d6a4a" stroke-width="0.4"/>
<rect x="556.26" y="228.70" width="3.20" height="14.30" fill="#0000ff" stroke="#3d6a4a" stroke-width="0.4"/>
<rect x="561.20" y="204.60" width="3.20" height="25.00" fill="#0000ff" stroke="#3d6a4a" stroke-width="0.4"/>
<rect x="566.14" y="202.70" width="3.20" height="1.40" fill="#0000ff" stroke="#3d6a4a" stroke-width="0.4"/>
<rect x="571.08" y="202.70" width="3.20" height="9.30" fill="#ff0000" stroke="#3d6a4a" stroke-width="0.4"/>
<rect x="576.01" y="214.70" width="3.20" height="1.10" fill="#ff0000" stroke="#3d6a4a" stroke-width="0.4"/>
<rect x="580.95" y="209.70" width="3.20" height="4.90" fill="#0000ff" stroke="#3d6a4a" stroke-width="0.4"/>
<rect x="585.89" y="201.30" width="3.20" height="9.80" fill="#0000ff" stroke="#3d6a4a" stroke-width="0.4"/>
<rect x="590.83" y="209.60" width="3.20" height="31.20" fill="#ff0000" stroke="#3d6a4a" stroke-width="0.4"/>
<rect x="595.76" y="240.40" width="3.20" height="13.00" fill="#ff0000" stroke="#3d6a4a" stroke-width="0.4"/>
<rect x="600.70" y="234.20" width="3.20" height="19.20" fill="#0000ff" stroke="#3d6a4a" stroke-width="0.4"/>
<rect x="605.64" y="220.70" width="3.20" height="12.10" fill="#0000ff" stroke="#3d6a4a" stroke-width="0.4"/>
<rect x="610.58" y="218.00" width="3.20" height="2.10" fill="#0000ff" stroke="#3d6a4a" stroke-width="0.4"/>
<rect x="615.51" y="194.50" width="3.20" height="24.20" fill="#0000ff" stroke="#3d6a4a" stroke-width="0.4"/>
<rect x="620.45" y="194.00" width="3.20" height="15.20" fill="#ff0000" stroke="#3d6a4a" stroke-width="0.4"/>
<rect x="625.39" y="201.20" width="3.20" height="9.20" fill="#0000ff" stroke="#3d6a4a" stroke-width="0.4"/>
<rect x="630.33" y="186.20" width="3.20" height="14.10" fill="#0000ff" stroke="#3d6a4a" stroke-width="0.4"/>
<rect x="635.26" y="186.20" width="3.20" height="5.80" fill="#ff0000" stroke="#3d6a4a" stroke-width="0.4"/>
<rect x="640.20" y="194.00" width="3.20" height="3.00" fill="#ff0000" stroke="#3d6a4a" stroke-width="0.4"/>
<rect x="645.14" y="179.50" width="3.20" height="22.50" fill="#0000ff" stroke="#3d6a4a" stroke-width="0.4"/>
<rect x="650.08" y="180.80" width="3.20" height="2.10" fill="#0000ff" stroke="#3d6a4a" stroke-width="0.4"/>
<rect x="655.01" y="180.30" width="3.20" height="3.80" fill="#ff0000" stroke="#3d6a4a" stroke-width="0.4"/>
<line x1="246.20" y1="72.40" x2="602.30" y2="253.90" stroke="#1010ee" stroke-width="1.8" stroke-linecap="round"/>
<defs><linearGradient id="gf" x1="0" y1="0" x2="0" y2="1"><stop offset="0" stop-color="#bfe8c9"/><stop offset="1" stop-color="#f2faf4"/></linearGradient></defs>
<path d="M244.2,342.98 L246.7,328.7 L251.7,333.7 L256.0,342.98 Z" fill="url(#gf)"/>
<polyline points="5.9,360.5 16.7,359.1 41.8,359.1 50.2,360.8 63.6,363.0 75.3,363.5 92.0,366.3 108.8,369.2 125.5,370.9 138.9,373.9 150.6,374.9 168.4,375.5 185.1,375.2 201.8,371.9 226.9,372.2 238.6,369.4 252.0,360.8 267.1,355.5 287.2,350.1 305.6,348.3 317.3,353.0 330.0,357.5 336.7,360.2 353.5,367.2 370.2,372.2 386.9,375.9 403.7,377.2 420.4,374.7 435.5,372.7 453.9,373.9 470.6,373.5 480.0,374.2 496.7,375.9 521.8,377.2 552.0,376.9 568.7,374.2 588.8,370.2 613.9,366.3 630.6,365.2 655.9,364.2" fill="none" stroke="#fbdc6a" stroke-width="0.9" stroke-linejoin="round" stroke-linecap="round" />
<polyline points="5.9,360.2 9.2,352.1 14.2,350.4 19.2,352.6 24.8,358.5 29.3,358.5 34.8,365.5 39.0,360.8 44.3,368.9 49.4,376.4 54.0,379.7 59.1,376.4 64.1,364.7 69.1,360.8 73.6,361.3 78.6,363.5 83.7,359.6 88.7,364.2 93.7,367.7 98.7,369.7 103.7,374.4 107.9,375.2 113.3,383.1 118.3,381.4 123.3,383.6 128.3,385.9 133.4,386.4 138.0,375.5 143.1,371.4 148.1,366.0 153.1,362.7 157.8,361.3 162.8,369.7 167.5,377.7 172.5,379.4 177.2,373.5 182.3,376.0 187.3,376.4 192.3,376.4 196.8,374.7 201.8,370.2 206.9,371.9 211.9,363.8 216.9,369.4 221.9,366.0 226.9,363.5 232.0,360.5 237.0,358.8 241.7,357.6 246.7,328.7 251.7,333.7 256.7,345.4 261.2,344.3 266.3,345.4 271.3,354.3 276.0,351.3 281.0,353.5 285.5,348.8 290.5,347.4 295.5,358.8 300.6,356.3 306.4,356.3 315.6,368.9 320.6,365.5 325.5,364.7 330.5,374.4 335.6,375.2 340.6,371.7 345.6,378.1 350.1,382.2 355.1,386.8 360.2,378.9 365.2,374.4 369.7,371.7 374.7,372.5 379.7,374.7 384.8,375.2 389.4,389.8 394.5,373.4 399.5,377.2 404.5,376.0 409.5,371.7 414.2,369.4 419.2,362.5 424.2,369.4 429.3,367.5 434.3,367.5 438.8,374.2 443.8,379.2 448.8,375.5 453.9,378.9 458.9,379.7 463.9,381.4 468.9,379.2 473.6,375.2 478.6,370.2 483.5,379.2 488.4,377.2 493.4,371.7 498.1,372.5 503.1,377.2 508.1,375.2 513.1,378.4 518.2,380.6 523.2,386.1 528.2,382.7 533.2,378.4 538.2,375.5 542.8,378.1 547.8,371.4 552.8,376.7 557.5,368.0 562.5,359.6 567.5,358.5 572.5,363.0 577.6,365.5 582.6,362.5 587.1,359.6 591.8,375.9 596.8,380.6 601.8,372.2 606.6,367.6 611.6,366.2 616.4,358.2 621.6,364.6 626.5,361.7 631.6,357.0 636.7,360.0 641.4,362.0 646.1,356.2 650.9,356.4 655.9,358.5" fill="none" stroke="#a43cb4" stroke-width="0.9" stroke-linejoin="round" stroke-linecap="round" />
<line x1="9.80" y1="430.30" x2="9.80" y2="426.90" stroke="#26a69a" stroke-width="0.9" />
<line x1="14.74" y1="430.30" x2="14.74" y2="426.00" stroke="#26a69a" stroke-width="0.9" />
<line x1="19.67" y1="430.30" x2="19.67" y2="425.40" stroke="#26a69a" stroke-width="0.9" />
<line x1="24.61" y1="430.30" x2="24.61" y2="427.30" stroke="#b2dfdb" stroke-width="0.9" />
<line x1="29.55" y1="430.30" x2="29.55" y2="427.50" stroke="#b2dfdb" stroke-width="0.9" />
<line x1="34.49" y1="430.30" x2="34.49" y2="429.60" stroke="#b2dfdb" stroke-width="0.9" />
<line x1="39.42" y1="430.30" x2="39.42" y2="430.90" stroke="#ffcdd2" stroke-width="0.9" />
<line x1="44.36" y1="430.30" x2="44.36" y2="432.30" stroke="#ff5252" stroke-width="0.9" />
<line x1="49.30" y1="430.30" x2="49.30" y2="435.00" stroke="#ff5252" stroke-width="0.9" />
<line x1="54.24" y1="430.30" x2="54.24" y2="436.90" stroke="#ff5252" stroke-width="0.9" />
<line x1="59.17" y1="430.30" x2="59.17" y2="437.80" stroke="#ff5252" stroke-width="0.9" />
<line x1="64.11" y1="430.30" x2="64.11" y2="435.30" stroke="#ffcdd2" stroke-width="0.9" />
<line x1="69.05" y1="430.30" x2="69.05" y2="433.10" stroke="#ffcdd2" stroke-width="0.9" />
<line x1="73.99" y1="430.30" x2="73.99" y2="431.00" stroke="#ffcdd2" stroke-width="0.9" />
<line x1="78.92" y1="430.30" x2="78.92" y2="430.90" stroke="#ffcdd2" stroke-width="0.9" />
<line x1="83.86" y1="430.30" x2="83.86" y2="429.70" stroke="#b2dfdb" stroke-width="0.9" />
<line x1="88.80" y1="430.30" x2="88.80" y2="429.70" stroke="#b2dfdb" stroke-width="0.9" />
<line x1="93.74" y1="430.30" x2="93.74" y2="430.90" stroke="#ff5252" stroke-width="0.9" />
<line x1="98.67" y1="430.30" x2="98.67" y2="431.30" stroke="#ffcdd2" stroke-width="0.9" />
<line x1="103.61" y1="430.30" x2="103.61" y2="433.50" stroke="#ffcdd2" stroke-width="0.9" />
<line x1="108.55" y1="430.30" x2="108.55" y2="433.80" stroke="#ff5252" stroke-width="0.9" />
<line x1="113.49" y1="430.30" x2="113.49" y2="435.70" stroke="#ff5252" stroke-width="0.9" />
<line x1="118.42" y1="430.30" x2="118.42" y2="436.70" stroke="#ff5252" stroke-width="0.9" />
<line x1="123.36" y1="430.30" x2="123.36" y2="437.50" stroke="#ff5252" stroke-width="0.9" />
<line x1="128.30" y1="430.30" x2="128.30" y2="436.90" stroke="#ff5252" stroke-width="0.9" />
<line x1="133.24" y1="430.30" x2="133.24" y2="438.20" stroke="#ff5252" stroke-width="0.9" />
<line x1="138.18" y1="430.30" x2="138.18" y2="435.60" stroke="#ffcdd2" stroke-width="0.9" />
<line x1="143.11" y1="430.30" x2="143.11" y2="433.80" stroke="#ffcdd2" stroke-width="0.9" />
<line x1="148.05" y1="430.30" x2="148.05" y2="431.00" stroke="#ffcdd2" stroke-width="0.9" />
<line x1="152.99" y1="430.30" x2="152.99" y2="430.90" stroke="#ffcdd2" stroke-width="0.9" />
<line x1="157.93" y1="430.30" x2="157.93" y2="427.80" stroke="#26a69a" stroke-width="0.9" />
<line x1="162.86" y1="430.30" x2="162.86" y2="428.10" stroke="#b2dfdb" stroke-width="0.9" />
<line x1="167.80" y1="430.30" x2="167.80" y2="429.50" stroke="#b2dfdb" stroke-width="0.9" />
<line x1="172.74" y1="430.30" x2="172.74" y2="430.90" stroke="#ffcdd2" stroke-width="0.9" />
<line x1="177.68" y1="430.30" x2="177.68" y2="430.90" stroke="#ffcdd2" stroke-width="0.9" />
<line x1="182.61" y1="430.30" x2="182.61" y2="431.60" stroke="#ff5252" stroke-width="0.9" />
<line x1="187.55" y1="430.30" x2="187.55" y2="431.60" stroke="#ff5252" stroke-width="0.9" />
<line x1="192.49" y1="430.30" x2="192.49" y2="430.90" stroke="#ffcdd2" stroke-width="0.9" />
<line x1="197.43" y1="430.30" x2="197.43" y2="430.90" stroke="#ffcdd2" stroke-width="0.9" />
<line x1="202.36" y1="430.30" x2="202.36" y2="429.70" stroke="#b2dfdb" stroke-width="0.9" />
<line x1="207.30" y1="430.30" x2="207.30" y2="429.40" stroke="#b2dfdb" stroke-width="0.9" />
<line x1="212.24" y1="430.30" x2="212.24" y2="427.90" stroke="#26a69a" stroke-width="0.9" />
<line x1="217.18" y1="430.30" x2="217.18" y2="427.90" stroke="#26a69a" stroke-width="0.9" />
<line x1="222.11" y1="430.30" x2="222.11" y2="427.90" stroke="#26a69a" stroke-width="0.9" />
<line x1="227.05" y1="430.30" x2="227.05" y2="427.50" stroke="#26a69a" stroke-width="0.9" />
<line x1="231.99" y1="430.30" x2="231.99" y2="427.30" stroke="#26a69a" stroke-width="0.9" />
<line x1="236.93" y1="430.30" x2="236.93" y2="426.90" stroke="#26a69a" stroke-width="0.9" />
<line x1="241.86" y1="430.30" x2="241.86" y2="426.90" stroke="#26a69a" stroke-width="0.9" />
<line x1="246.80" y1="430.30" x2="246.80" y2="420.00" stroke="#26a69a" stroke-width="0.9" />
<line x1="251.74" y1="430.30" x2="251.74" y2="416.40" stroke="#26a69a" stroke-width="0.9" />
<line x1="256.68" y1="430.30" x2="256.68" y2="417.30" stroke="#b2dfdb" stroke-width="0.9" />
<line x1="261.61" y1="430.30" x2="261.61" y2="418.10" stroke="#b2dfdb" stroke-width="0.9" />
<line x1="266.55" y1="430.30" x2="266.55" y2="419.00" stroke="#b2dfdb" stroke-width="0.9" />
<line x1="271.49" y1="430.30" x2="271.49" y2="421.50" stroke="#b2dfdb" stroke-width="0.9" />
<line x1="276.43" y1="430.30" x2="276.43" y2="423.20" stroke="#b2dfdb" stroke-width="0.9" />
<line x1="281.36" y1="430.30" x2="281.36" y2="425.00" stroke="#b2dfdb" stroke-width="0.9" />
<line x1="286.30" y1="430.30" x2="286.30" y2="426.30" stroke="#b2dfdb" stroke-width="0.9" />
<line x1="291.24" y1="430.30" x2="291.24" y2="425.70" stroke="#b2dfdb" stroke-width="0.9" />
<line x1="296.18" y1="430.30" x2="296.18" y2="428.20" stroke="#b2dfdb" stroke-width="0.9" />
<line x1="301.11" y1="430.30" x2="301.11" y2="429.60" stroke="#b2dfdb" stroke-width="0.9" />
<line x1="306.05" y1="430.30" x2="306.05" y2="429.70" stroke="#b2dfdb" stroke-width="0.9" />
<line x1="310.99" y1="430.30" x2="310.99" y2="431.90" stroke="#ffcdd2" stroke-width="0.9" />
<line x1="315.93" y1="430.30" x2="315.93" y2="434.40" stroke="#ff5252" stroke-width="0.9" />
<line x1="320.86" y1="430.30" x2="320.86" y2="434.80" stroke="#ff5252" stroke-width="0.9" />
<line x1="325.80" y1="430.30" x2="325.80" y2="435.70" stroke="#ff5252" stroke-width="0.9" />
<line x1="330.74" y1="430.30" x2="330.74" y2="436.90" stroke="#ff5252" stroke-width="0.9" />
<line x1="335.68" y1="430.30" x2="335.68" y2="437.50" stroke="#ff5252" stroke-width="0.9" />
<line x1="340.61" y1="430.30" x2="340.61" y2="436.30" stroke="#ffcdd2" stroke-width="0.9" />
<line x1="345.55" y1="430.30" x2="345.55" y2="438.20" stroke="#ff5252" stroke-width="0.9" />
<line x1="350.49" y1="430.30" x2="350.49" y2="439.40" stroke="#ff5252" stroke-width="0.9" />
<line x1="355.43" y1="430.30" x2="355.43" y2="440.30" stroke="#ff5252" stroke-width="0.9" />
<line x1="360.36" y1="430.30" x2="360.36" y2="439.40" stroke="#ffcdd2" stroke-width="0.9" />
<line x1="365.30" y1="430.30" x2="365.30" y2="438.20" stroke="#ffcdd2" stroke-width="0.9" />
<line x1="370.24" y1="430.30" x2="370.24" y2="435.70" stroke="#ffcdd2" stroke-width="0.9" />
<line x1="375.18" y1="430.30" x2="375.18" y2="433.80" stroke="#ffcdd2" stroke-width="0.9" />
<line x1="380.11" y1="430.30" x2="380.11" y2="432.50" stroke="#ffcdd2" stroke-width="0.9" />
<line x1="385.05" y1="430.30" x2="385.05" y2="431.50" stroke="#ffcdd2" stroke-width="0.9" />
<line x1="389.99" y1="430.30" x2="389.99" y2="435.70" stroke="#ff5252" stroke-width="0.9" />
<line x1="394.93" y1="430.30" x2="394.93" y2="433.00" stroke="#ffcdd2" stroke-width="0.9" />
<line x1="399.86" y1="430.30" x2="399.86" y2="431.50" stroke="#ffcdd2" stroke-width="0.9" />
<line x1="404.80" y1="430.30" x2="404.80" y2="430.90" stroke="#ffcdd2" stroke-width="0.9" />
<line x1="409.74" y1="430.30" x2="409.74" y2="429.70" stroke="#b2dfdb" stroke-width="0.9" />
<line x1="414.68" y1="430.30" x2="414.68" y2="429.50" stroke="#b2dfdb" stroke-width="0.9" />
<line x1="419.61" y1="430.30" x2="419.61" y2="428.10" stroke="#26a69a" stroke-width="0.9" />
<line x1="424.55" y1="430.30" x2="424.55" y2="428.10" stroke="#26a69a" stroke-width="0.9" />
<line x1="429.49" y1="430.30" x2="429.49" y2="427.90" stroke="#26a69a" stroke-width="0.9" />
<line x1="434.43" y1="430.30" x2="434.43" y2="427.90" stroke="#26a69a" stroke-width="0.9" />
<line x1="439.36" y1="430.30" x2="439.36" y2="429.50" stroke="#b2dfdb" stroke-width="0.9" />
<line x1="444.30" y1="430.30" x2="444.30" y2="430.90" stroke="#ffcdd2" stroke-width="0.9" />
<line x1="449.24" y1="430.30" x2="449.24" y2="431.00" stroke="#ffcdd2" stroke-width="0.9" />
<line x1="454.18" y1="430.30" x2="454.18" y2="431.90" stroke="#ff5252" stroke-width="0.9" />
<line x1="459.11" y1="430.30" x2="459.11" y2="432.50" stroke="#ff5252" stroke-width="0.9" />
<line x1="464.05" y1="430.30" x2="464.05" y2="432.50" stroke="#ff5252" stroke-width="0.9" />
<line x1="468.99" y1="430.30" x2="468.99" y2="431.40" stroke="#ffcdd2" stroke-width="0.9" />
<line x1="473.93" y1="430.30" x2="473.93" y2="430.90" stroke="#ffcdd2" stroke-width="0.9" />
<line x1="478.86" y1="430.30" x2="478.86" y2="430.90" stroke="#ffcdd2" stroke-width="0.9" />
<line x1="483.80" y1="430.30" x2="483.80" y2="431.30" stroke="#ff5252" stroke-width="0.9" />
<line x1="488.74" y1="430.30" x2="488.74" y2="431.30" stroke="#ff5252" stroke-width="0.9" />
<line x1="493.68" y1="430.30" x2="493.68" y2="430.90" stroke="#ffcdd2" stroke-width="0.9" />
<line x1="498.61" y1="430.30" x2="498.61" y2="429.40" stroke="#26a69a" stroke-width="0.9" />
<line x1="503.55" y1="430.30" x2="503.55" y2="429.70" stroke="#b2dfdb" stroke-width="0.9" />
<line x1="508.49" y1="430.30" x2="508.49" y2="430.90" stroke="#ffcdd2" stroke-width="0.9" />
<line x1="513.42" y1="430.30" x2="513.42" y2="430.90" stroke="#ffcdd2" stroke-width="0.9" />
<line x1="518.36" y1="430.30" x2="518.36" y2="431.20" stroke="#ff5252" stroke-width="0.9" />
<line x1="523.30" y1="430.30" x2="523.30" y2="431.90" stroke="#ff5252" stroke-width="0.9" />
<line x1="528.24" y1="430.30" x2="528.24" y2="432.30" stroke="#ff5252" stroke-width="0.9" />
<line x1="533.17" y1="430.30" x2="533.17" y2="431.00" stroke="#ffcdd2" stroke-width="0.9" />
<line x1="538.11" y1="430.30" x2="538.11" y2="430.90" stroke="#ffcdd2" stroke-width="0.9" />
<line x1="543.05" y1="430.30" x2="543.05" y2="429.70" stroke="#b2dfdb" stroke-width="0.9" />
<line x1="547.99" y1="430.30" x2="547.99" y2="429.40" stroke="#b2dfdb" stroke-width="0.9" />
<line x1="552.92" y1="430.30" x2="552.92" y2="429.60" stroke="#b2dfdb" stroke-width="0.9" />
<line x1="557.86" y1="430.30" x2="557.86" y2="427.90" stroke="#26a69a" stroke-width="0.9" />
<line x1="562.80" y1="430.30" x2="562.80" y2="426.50" stroke="#26a69a" stroke-width="0.9" />
<line x1="567.74" y1="430.30" x2="567.74" y2="425.30" stroke="#26a69a" stroke-width="0.9" />
<line x1="572.67" y1="430.30" x2="572.67" y2="425.30" stroke="#26a69a" stroke-width="0.9" />
<line x1="577.61" y1="430.30" x2="577.61" y2="426.00" stroke="#b2dfdb" stroke-width="0.9" />
<line x1="582.55" y1="430.30" x2="582.55" y2="429.00" stroke="#b2dfdb" stroke-width="0.9" />
<line x1="587.49" y1="430.30" x2="587.49" y2="426.00" stroke="#26a69a" stroke-width="0.9" />
<line x1="592.42" y1="430.30" x2="592.42" y2="429.50" stroke="#b2dfdb" stroke-width="0.9" />
<line x1="597.36" y1="430.30" x2="597.36" y2="430.90" stroke="#ffcdd2" stroke-width="0.9" />
<line x1="602.30" y1="430.30" x2="602.30" y2="430.90" stroke="#ffcdd2" stroke-width="0.9" />
<line x1="607.24" y1="430.30" x2="607.24" y2="429.70" stroke="#b2dfdb" stroke-width="0.9" />
<line x1="612.17" y1="430.30" x2="612.17" y2="429.60" stroke="#b2dfdb" stroke-width="0.9" />
<line x1="617.11" y1="430.30" x2="617.11" y2="429.20" stroke="#26a69a" stroke-width="0.9" />
<line x1="622.05" y1="430.30" x2="622.05" y2="429.40" stroke="#b2dfdb" stroke-width="0.9" />
<line x1="626.99" y1="430.30" x2="626.99" y2="428.10" stroke="#b2dfdb" stroke-width="0.9" />
<line x1="631.92" y1="430.30" x2="631.92" y2="427.10" stroke="#26a69a" stroke-width="0.9" />
<line x1="636.86" y1="430.30" x2="636.86" y2="428.10" stroke="#b2dfdb" stroke-width="0.9" />
<line x1="641.80" y1="430.30" x2="641.80" y2="428.10" stroke="#b2dfdb" stroke-width="0.9" />
<line x1="646.74" y1="430.30" x2="646.74" y2="426.40" stroke="#26a69a" stroke-width="0.9" />
<line x1="651.67" y1="430.30" x2="651.67" y2="426.10" stroke="#26a69a" stroke-width="0.9" />
<line x1="656.61" y1="430.30" x2="656.61" y2="426.80" stroke="#b2dfdb" stroke-width="0.9" />
<polyline points="5.7,418.8 16.0,416.6 25.0,415.4 36.0,415.3 47.6,416.3 62.6,420.6 75.0,421.8 87.6,422.3 106.4,424.0 115.0,426.5 125.0,429.4 140.0,434.0 150.0,434.2 162.5,433.1 187.6,434.8 212.6,434.4 231.4,431.3 241.4,430.0 250.0,425.0 262.5,416.3 275.0,411.3 287.5,408.5 302.6,406.9 312.6,408.1 325.1,411.3 337.6,415.0 350.1,420.0 362.6,425.7 376.0,430.1 387.5,432.5 400.0,435.0 412.5,436.3 425.1,435.0 437.6,433.8 450.1,434.4 462.6,435.3 481.4,436.5 503.0,436.5 525.0,437.5 543.8,438.2 556.3,437.3 568.8,434.8 581.4,432.3 593.9,430.6 606.4,430.6 616.5,429.8 626.8,428.5 637.1,426.8 647.3,425.1 655.9,424.4" fill="none" stroke="#ff8c42" stroke-width="0.9" stroke-linejoin="round" stroke-linecap="round" />
<polyline points="5.8,417.1 13.3,413.3 21.6,412.0 29.9,412.5 38.2,414.6 44.9,416.6 50.0,420.6 58.8,427.1 66.5,424.9 75.0,423.1 87.6,421.9 97.6,423.1 108.9,427.5 118.0,432.5 128.0,437.5 132.5,439.4 140.0,439.2 150.0,435.0 158.8,431.0 168.8,433.1 185.0,435.0 200.0,435.0 212.6,432.5 225.1,430.6 237.6,427.5 241.4,427.1 245.5,420.0 250.0,412.5 256.3,408.1 265.0,404.4 275.0,404.8 280.0,405.3 290.0,403.5 297.6,405.6 306.3,407.5 317.6,412.5 325.1,415.6 335.1,421.3 345.1,425.7 350.1,429.8 356.4,433.5 365.0,434.3 375.0,434.4 385.0,434.8 390.0,438.2 405.0,438.5 412.5,436.3 420.0,433.8 433.8,431.3 440.1,433.1 452.6,435.7 465.1,438.2 475.1,437.5 481.4,437.2 493.9,437.3 500.0,436.3 515.0,436.5 525.0,439.0 532.5,439.4 543.8,438.2 552.6,437.3 560.1,433.8 568.8,430.6 577.6,429.4 587.6,426.9 595.1,429.8 600.1,431.0 610.1,430.6 615.2,428.1 626.8,426.1 631.6,424.4 640.5,423.3 645.3,422.3 650.8,421.1 655.9,421.3" fill="none" stroke="#3aa0f0" stroke-width="0.9" stroke-linejoin="round" stroke-linecap="round" />
<rect x="986.3" y="15.4" width="30.6" height="442.4" fill="#fff"/>
<line x1="986.30" y1="324.30" x2="1017.30" y2="324.30" stroke="#e4e6ec" stroke-width="1" />
<line x1="986.30" y1="401.20" x2="1017.30" y2="401.20" stroke="#e4e6ec" stroke-width="1" />
<line x1="986.30" y1="15.00" x2="986.30" y2="458.20" stroke="#7a7a7a" stroke-width="1.1" />
<line x1="5.50" y1="443.30" x2="1017.30" y2="443.30" stroke="#9a9a9a" stroke-width="1.3" />
<text transform="translate(991.20 50.80) scale(0.82 1)" fill="#555" stroke="#555" stroke-width="0.22" font-size="6.9" textLength="26.34" lengthAdjust="spacing" >0.61000</text>
<text transform="translate(991.20 89.00) scale(0.82 1)" fill="#555" stroke="#555" stroke-width="0.22" font-size="6.9" textLength="26.34" lengthAdjust="spacing" >0.60500</text>
<text transform="translate(991.20 128.80) scale(0.82 1)" fill="#555" stroke="#555" stroke-width="0.22" font-size="6.9" textLength="26.34" lengthAdjust="spacing" >0.60000</text>
<text transform="translate(991.20 206.60) scale(0.82 1)" fill="#555" stroke="#555" stroke-width="0.22" font-size="6.9" textLength="26.34" lengthAdjust="spacing" >0.59000</text>
<text transform="translate(991.20 245.40) scale(0.82 1)" fill="#555" stroke="#555" stroke-width="0.22" font-size="6.9" textLength="26.34" lengthAdjust="spacing" >0.58500</text>
<text transform="translate(991.20 284.00) scale(0.82 1)" fill="#555" stroke="#555" stroke-width="0.22" font-size="6.9" textLength="26.34" lengthAdjust="spacing" >0.58000</text>
<text transform="translate(991.20 322.90) scale(0.82 1)" fill="#555" stroke="#555" stroke-width="0.22" font-size="6.9" textLength="26.34" lengthAdjust="spacing" >0.57500</text>
<text transform="translate(991.20 331.90) scale(0.82 1)" fill="#555" stroke="#555" stroke-width="0.22" font-size="6.9" textLength="18.82" lengthAdjust="spacing" >80.00</text>
<text transform="translate(991.20 358.60) scale(0.82 1)" fill="#555" stroke="#555" stroke-width="0.22" font-size="6.9" textLength="18.82" lengthAdjust="spacing" >60.00</text>
<text transform="translate(991.20 385.70) scale(0.82 1)" fill="#555" stroke="#555" stroke-width="0.22" font-size="6.9" textLength="18.82" lengthAdjust="spacing" >40.00</text>
<text transform="translate(991.20 432.60) scale(0.82 1)" fill="#555" stroke="#555" stroke-width="0.22" font-size="6.9" textLength="26.34" lengthAdjust="spacing" >0.00000</text>
<rect x="987" y="28.0" width="28" height="9.20" rx="0.8" fill="#ff0000"/>
<text transform="translate(991.20 34.90) scale(0.82 1)" fill="#fff" stroke="#fff" stroke-width="0.22" font-size="6.9" textLength="26.34" lengthAdjust="spacing" >0.61235</text>
<rect x="986.9" y="15.5" width="30" height="18.1" fill="#fff"/>
<rect x="987" y="88.8" width="28" height="9.20" rx="0.8" fill="#ff0000"/>
<text transform="translate(991.20 95.70) scale(0.82 1)" fill="#fff" stroke="#fff" stroke-width="0.22" font-size="6.9" textLength="26.34" lengthAdjust="spacing" >0.60429</text>
<rect x="987" y="158.4" width="28" height="9.40" rx="0.8" fill="#ff0000"/>
<text transform="translate(991.20 165.40) scale(0.82 1)" fill="#fff" stroke="#fff" stroke-width="0.22" font-size="6.9" textLength="26.34" lengthAdjust="spacing" >0.59532</text>
<rect x="987" y="180.1" width="28" height="16.50" rx="0.8" fill="#ff0000"/>
<text transform="translate(991.20 187.70) scale(0.82 1)" fill="#fff" stroke="#fff" stroke-width="0.22" font-size="6.9" textLength="26.34" lengthAdjust="spacing" >0.59255</text>
<text transform="translate(991.20 195.00) scale(0.82 1)" fill="#fff" stroke="#fff" stroke-width="0.22" font-size="6.9" textLength="18.82" lengthAdjust="spacing" >36:06</text>
<rect x="987" y="260.8" width="28" height="8.90" rx="0.8" fill="#43a047"/>
<text transform="translate(991.20 267.55) scale(0.82 1)" fill="#fff" stroke="#fff" stroke-width="0.22" font-size="6.9" textLength="26.34" lengthAdjust="spacing" >0.58218</text>
<rect x="987" y="293.2" width="28" height="8.70" rx="0.8" fill="#43a047"/>
<text transform="translate(991.20 299.85) scale(0.82 1)" fill="#fff" stroke="#fff" stroke-width="0.22" font-size="6.9" textLength="26.34" lengthAdjust="spacing" >0.57805</text>
<rect x="988.6" y="17.4" width="26.4" height="14.2" rx="2" fill="#fff" stroke="#e0e3eb" stroke-width="0.7"/>
<text transform="translate(993.70 26.90) scale(0.82 1)" fill="#333" stroke="#333" stroke-width="0.12" font-size="6.3" textLength="12.56" lengthAdjust="spacing" >USD</text>
<text transform="translate(46.20 452.60) scale(0.86 1)" fill="#555" stroke="#555" stroke-width="0.08" font-size="6.8" textLength="7.44" lengthAdjust="spacing" >20</text>
<text transform="translate(100.85 452.60) scale(0.86 1)" fill="#555" stroke="#555" stroke-width="0.08" font-size="6.8" textLength="18.14" lengthAdjust="spacing" >12:00</text>
<text transform="translate(164.70 452.60) scale(0.86 1)" fill="#555" stroke="#555" stroke-width="0.08" font-size="6.8" textLength="7.44" lengthAdjust="spacing" >21</text>
<text transform="translate(219.35 452.60) scale(0.86 1)" fill="#555" stroke="#555" stroke-width="0.08" font-size="6.8" textLength="18.14" lengthAdjust="spacing" >12:00</text>
<text transform="translate(283.20 452.60) scale(0.86 1)" fill="#555" stroke="#555" stroke-width="0.08" font-size="6.8" textLength="7.44" lengthAdjust="spacing" >22</text>
<text transform="translate(337.85 452.60) scale(0.86 1)" fill="#555" stroke="#555" stroke-width="0.08" font-size="6.8" textLength="18.14" lengthAdjust="spacing" >12:00</text>
<text transform="translate(401.70 452.60) scale(0.86 1)" fill="#555" stroke="#555" stroke-width="0.08" font-size="6.8" textLength="7.44" lengthAdjust="spacing" >23</text>
<text transform="translate(456.35 452.60) scale(0.86 1)" fill="#555" stroke="#555" stroke-width="0.08" font-size="6.8" textLength="18.14" lengthAdjust="spacing" >12:00</text>
<text transform="translate(520.20 452.60) scale(0.86 1)" fill="#555" stroke="#555" stroke-width="0.08" font-size="6.8" textLength="7.44" lengthAdjust="spacing" >24</text>
<text transform="translate(574.85 452.60) scale(0.86 1)" fill="#555" stroke="#555" stroke-width="0.08" font-size="6.8" textLength="18.14" lengthAdjust="spacing" >12:00</text>
<text transform="translate(638.70 452.60) scale(0.86 1)" fill="#555" stroke="#555" stroke-width="0.08" font-size="6.8" textLength="7.44" lengthAdjust="spacing" >25</text>
<text transform="translate(693.35 452.60) scale(0.86 1)" fill="#555" stroke="#555" stroke-width="0.08" font-size="6.8" textLength="18.14" lengthAdjust="spacing" >12:00</text>
<text transform="translate(757.20 452.60) scale(0.86 1)" fill="#555" stroke="#555" stroke-width="0.08" font-size="6.8" textLength="7.44" lengthAdjust="spacing" >26</text>
<text transform="translate(811.85 452.60) scale(0.86 1)" fill="#555" stroke="#555" stroke-width="0.08" font-size="6.8" textLength="18.14" lengthAdjust="spacing" >12:00</text>
<text transform="translate(875.70 452.60) scale(0.86 1)" fill="#555" stroke="#555" stroke-width="0.08" font-size="6.8" textLength="7.44" lengthAdjust="spacing" >27</text>
<text transform="translate(930.35 452.60) scale(0.86 1)" fill="#555" stroke="#555" stroke-width="0.08" font-size="6.8" textLength="18.14" lengthAdjust="spacing" >12:00</text>
<text transform="translate(5.60 10.70) scale(0.82 1)" fill="#4a4a4a" stroke="#4a4a4a" stroke-width="0.12" font-size="7.2" textLength="249.88" lengthAdjust="spacing" >aayushjindal published on TradingView.com, Sep 25, 2024 03:23 UTC</text>
<text transform="translate(9.90 26.00) scale(0.82 1)" fill="#555" stroke="#555" stroke-width="0.12" font-size="7.25" textLength="107.93" lengthAdjust="spacing" >XRP / U.S. Dollar, 1h, KRAKEN</text>
<text transform="translate(103.60 26.00) scale(0.82 1)" fill="#555" stroke="#555" stroke-width="0.12" font-size="7.25" textLength="4.88" lengthAdjust="spacing" >O</text>
<text transform="translate(107.80 26.00) scale(0.82 1)" fill="#8c3c3c" stroke="#8c3c3c" stroke-width="0.12" font-size="7.25" textLength="28.05" lengthAdjust="spacing" >0.59310</text>
<text transform="translate(135.60 26.00) scale(0.82 1)" fill="#555" stroke="#555" stroke-width="0.12" font-size="7.25" textLength="4.88" lengthAdjust="spacing" >H</text>
<text transform="translate(139.80 26.00) scale(0.82 1)" fill="#8c3c3c" stroke="#8c3c3c" stroke-width="0.12" font-size="7.25" textLength="28.05" lengthAdjust="spacing" >0.59310</text>
<text transform="translate(167.90 26.00) scale(0.82 1)" fill="#555" stroke="#555" stroke-width="0.12" font-size="7.25" textLength="4.51" lengthAdjust="spacing" >L</text>
<text transform="translate(171.80 26.00) scale(0.82 1)" fill="#8c3c3c" stroke="#8c3c3c" stroke-width="0.12" font-size="7.25" textLength="27.80" lengthAdjust="spacing" >0.59238</text>
<text transform="translate(198.90 26.00) scale(0.82 1)" fill="#555" stroke="#555" stroke-width="0.12" font-size="7.25" textLength="5.00" lengthAdjust="spacing" >C</text>
<text transform="translate(203.10 26.00) scale(0.82 1)" fill="#8c3c3c" stroke="#8c3c3c" stroke-width="0.12" font-size="7.25" textLength="27.80" lengthAdjust="spacing" >0.59255</text>
<text transform="translate(230.60 26.00) scale(0.82 1)" fill="#8c3c3c" stroke="#8c3c3c" stroke-width="0.12" font-size="7.25" textLength="65.12" lengthAdjust="spacing" >−0.00056 (−0.09%)</text>
<text transform="translate(9.90 35.00) scale(0.82 1)" fill="#555" stroke="#555" stroke-width="0.12" font-size="7.25" textLength="59.88" lengthAdjust="spacing" >SMA (100, close)</text>
<text x="64.30" y="35.00" fill="#ff5a5a" font-size="7.25" text-anchor="start" >f</text>
<text transform="translate(10.10 335.20) scale(0.82 1)" fill="#555" stroke="#555" stroke-width="0.12" font-size="7.25" textLength="51.46" lengthAdjust="spacing" >RSI (14, close)</text>
<text transform="translate(56.80 335.20) scale(0.82 1)" fill="#a040c0" stroke="#a040c0" stroke-width="0.12" font-size="7.25" textLength="19.76" lengthAdjust="spacing" >58.14</text>
<text transform="translate(77.20 335.20) scale(0.82 1)" fill="#fdd63a" stroke="#fdd63a" stroke-width="0.12" font-size="7.25" textLength="20.12" lengthAdjust="spacing" >54.04</text>
<text transform="translate(98.40 335.20) scale(0.82 1)" fill="#666" stroke="#666" stroke-width="0.12" font-size="7.25" textLength="4.15" lengthAdjust="spacing" >Ø</text>
<text transform="translate(107.30 335.20) scale(0.82 1)" fill="#666" stroke="#666" stroke-width="0.12" font-size="7.25" textLength="4.15" lengthAdjust="spacing" >Ø</text>
<text transform="translate(115.50 335.20) scale(0.82 1)" fill="#666" stroke="#666" stroke-width="0.12" font-size="7.25" textLength="4.15" lengthAdjust="spacing" >Ø</text>
<text transform="translate(123.80 335.20) scale(0.82 1)" fill="#666" stroke="#666" stroke-width="0.12" font-size="7.25" textLength="4.15" lengthAdjust="spacing" >Ø</text>
<text transform="translate(10.30 412.30) scale(0.82 1)" fill="#555" stroke="#555" stroke-width="0.12" font-size="7.25" textLength="74.88" lengthAdjust="spacing" >MACD (12, 26, close)</text>
<text transform="translate(76.20 412.30) scale(0.82 1)" fill="#a6d9d2" stroke="#a6d9d2" stroke-width="0.12" font-size="7.25" textLength="28.05" lengthAdjust="spacing" >0.00048</text>
<text transform="translate(103.80 412.30) scale(0.82 1)" fill="#2196f3" stroke="#2196f3" stroke-width="0.12" font-size="7.25" textLength="27.68" lengthAdjust="spacing" >0.00143</text>
<text transform="translate(131.50 412.30) scale(0.82 1)" fill="#ff7b2c" stroke="#ff7b2c" stroke-width="0.12" font-size="7.25" textLength="27.68" lengthAdjust="spacing" >0.00095</text>
<circle cx="656.4" cy="317.0" r="5.2" fill="#fff" stroke="#b048c8" stroke-width="0.9"/>
<path d="M657.7,314.0 L655.3,317.2 L657.6,316.8 L655.2,320.0" fill="none" stroke="#a838c0" stroke-width="1.05" stroke-linejoin="miter" stroke-linecap="round"/>
<path d="M5.5,465.1 H10.9 V467.2 H10.0 V470.9 H7.8 V467.2 H5.5 Z" fill="#131722"/>
<circle cx="12.4" cy="466.3" r="1.15" fill="#131722"/>
<path d="M12.4,470.9 L14.3,465.1 H16.7 L14.8,470.9 Z" fill="#131722"/>
<text transform="translate(19.3 470.9) scale(0.9 1)" fill="#444" stroke="#444" stroke-width="0.05" font-size="7.9" textLength="42.33" lengthAdjust="spacing">TradingView</text>
</svg>
</body></html>
